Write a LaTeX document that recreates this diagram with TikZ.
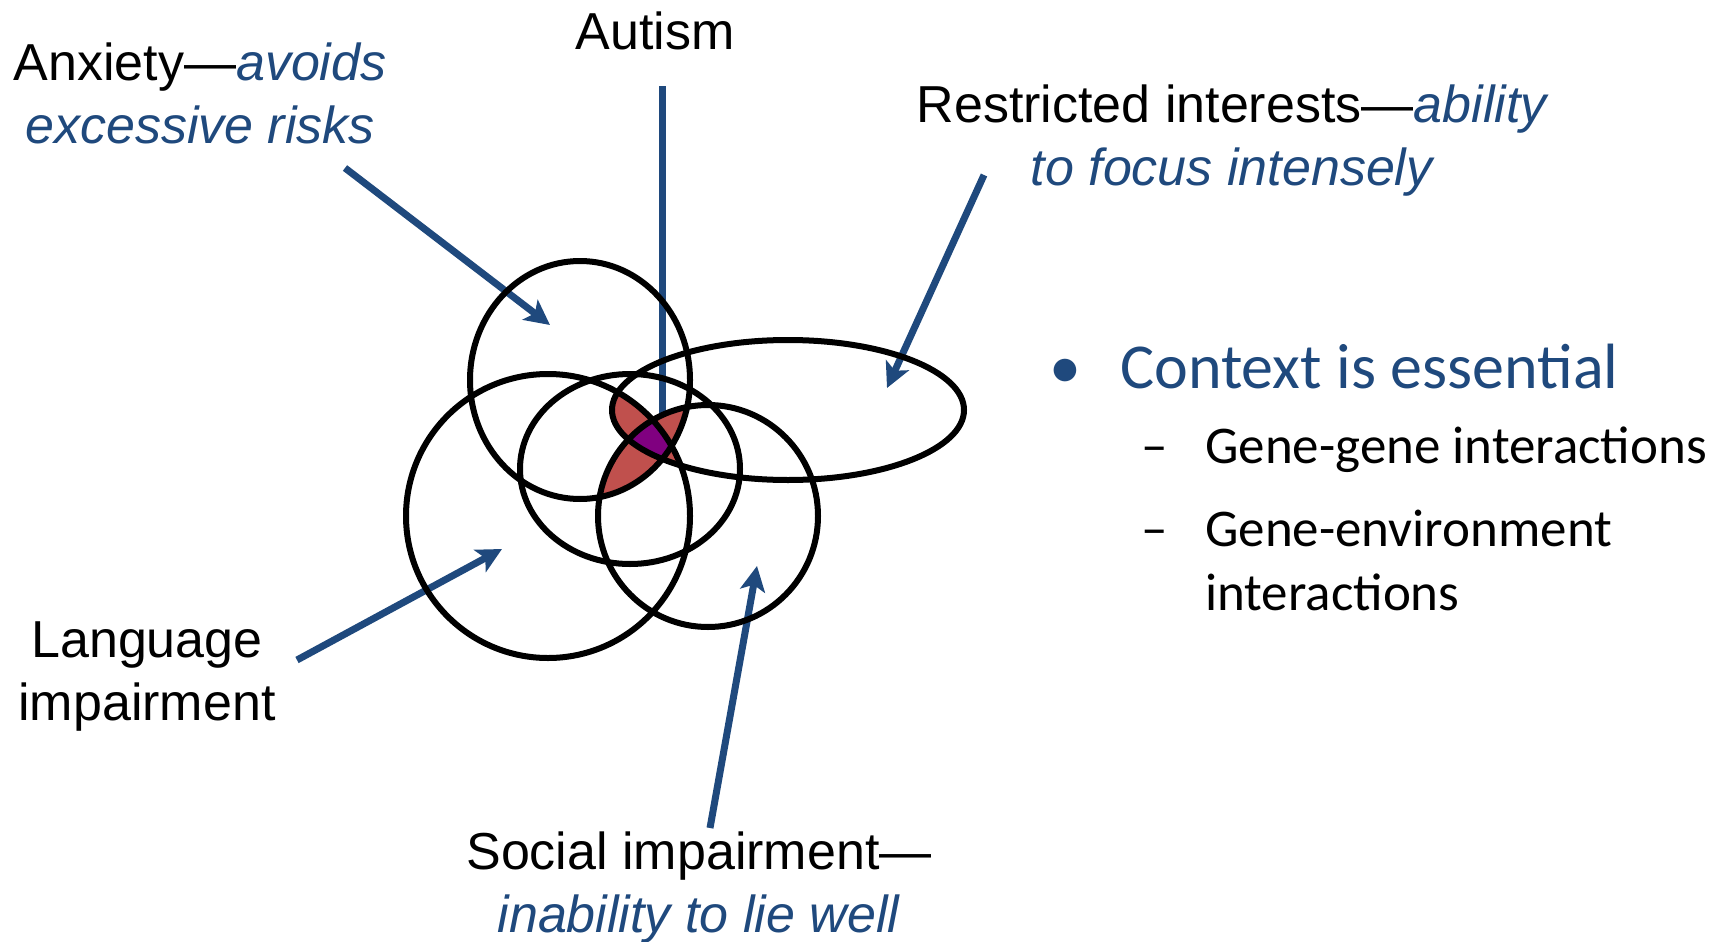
\documentclass[tikz,border=0pt]{standalone}
\usepackage{fontspec}
\setmainfont{Liberation Sans}
\newfontfamily\bulletfont{Carlito}
\usetikzlibrary{arrows.meta,positioning}
\definecolor{traitblue}{HTML}{1F497D}
\definecolor{overlapred}{HTML}{C0504D}
\definecolor{corepurple}{HTML}{800080}
\newcommand{\benefit}[1]{\textcolor{traitblue}{\textit{#1}}}
% the five sets
\newcommand{\setanx}{(580,380) ellipse [x radius=110, y radius=119]}
\newcommand{\setlang}{(548,516) ellipse [x radius=142, y radius=142]}
\newcommand{\setmid}{(630,469) ellipse [x radius=110, y radius=95]}
\newcommand{\setsoc}{(708,516) ellipse [x radius=110, y radius=111]}
\newcommand{\setrest}{(788,410) ellipse [x radius=176, y radius=70]}
\tikzset{
  every picture/.style = {
    x = 1pt,
    y = -1pt,
    >={Stealth[length=25pt, width=25pt, inset=6pt]},
  }
  ,
  set-outline/.style = {
    draw,
    line width = 6pt
  }
  , % arrows from the labels
  arrow-trait/.style = {
    ->,
    draw = traitblue,
    line width = 7pt
  }
  , % labels of traits
  label-trait/.style = {
    font = \fontsize{52}{63}\selectfont,
    align = center,
    inner sep = 0pt,
    anchor = base
  }
  , % bullet list
  label-bullet/.style = {
    font = \bulletfont\fontsize{53}{64}\selectfont,
    inner sep = 0pt,
    anchor = base west
  }
}
\begin{document}
\begin{tikzpicture}
\useasboundingbox (0,0) rectangle (1727,942);

% base anchor sits on the last line
\node [label-trait] (autism) at (655,49) {Autism};
\node [label-trait] (anxiety) at (200,143) {Anxiety—\benefit{avoids}\\\benefit{excessive risks}};
\node [label-trait] (restricted) at (1233,185) {Restricted interests—\benefit{ability}\\\benefit{to focus intensely}};
\node [label-trait] (language) at (147,720) {Language\\impairment};
\node [label-trait] (social) at (699,932) {Social impairment—\\\benefit{inability to lie well}};

\coordinate (autism-tail) at (662,86);
\coordinate (autism-tip) at (662,440);
\coordinate (anxiety-tail) at (345,168);
\coordinate (anxiety-tip) at (550,325);
\coordinate (restricted-tail) at (984,175);
\coordinate (restricted-tip) at (887,388);
\coordinate (language-tail) at (297,660);
\coordinate (language-tip) at (502,549);
\coordinate (social-tail) at (710,828);
\coordinate (social-tip) at (757,566);

\path (autism-tail) edge[arrow-trait] (autism-tip);
\path (anxiety-tail) edge[arrow-trait] (anxiety-tip);
\path (restricted-tail) edge[arrow-trait] (restricted-tip);
\path (language-tail) edge[arrow-trait] (language-tip);
\path (social-tail) edge[arrow-trait] (social-tip);

% overlaps
\begin{scope}
  \clip \setanx;
  \fill [overlapred] \setsoc;
\end{scope}
\begin{scope}
  \clip \setrest;
  \fill [overlapred] \setlang;
\end{scope}
\begin{scope}
  \clip \setanx;
  \clip \setsoc;
  \clip \setrest;
  \fill [corepurple] \setlang;
\end{scope}

\path [set-outline] \setanx;
\path [set-outline] \setlang;
\path [set-outline] \setmid;
\path [set-outline] \setsoc;
\path [set-outline] \setrest;

\node [label-bullet, font=\bulletfont\fontsize{64}{76}\selectfont, text=traitblue] (dot) at (1049,388) {•};
\node [label-bullet, font=\bulletfont\fontsize{64}{76}\selectfont, text=traitblue] (context) at (1120,388) {Context is essential};
\node [label-bullet] (dash-gg) at (1141,463) {–};
\node [label-bullet] (gene-gene) at (1205,463) {Gene-gene interactions};
\node [label-bullet] (dash-ge) at (1141,546) {–};
\node [label-bullet, align=left] (gene-env) at (1205,610) {Gene-environment\\interactions};
\end{tikzpicture}
\end{document}
